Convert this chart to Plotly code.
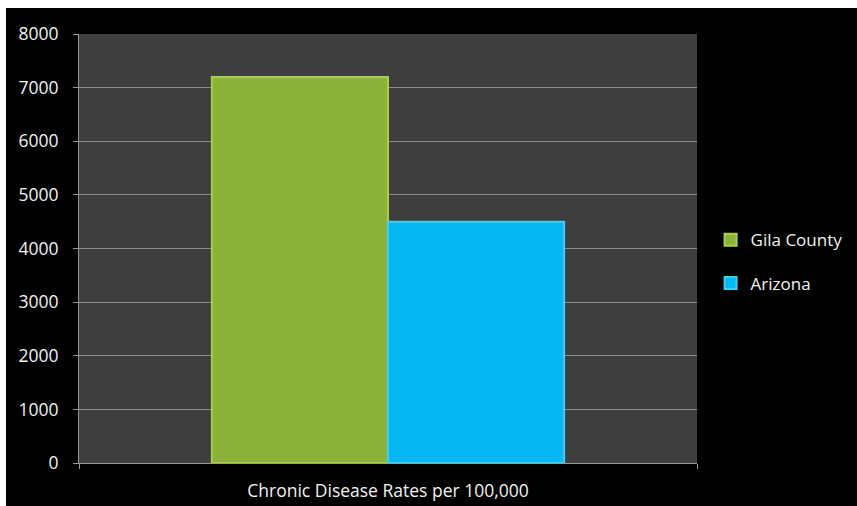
import plotly.graph_objects as go

# Chronic disease rate per 100,000 residents
category = ["Chronic Disease Rates per 100,000"]
regions = ["Gila County", "Arizona"]
rates = [7200, 4500]

fill_colors = ["#8db23a", "#05b8f2"]
edge_colors = ["#a9cf48", "#3fcdf8"]

W, H = 857, 506
M_L, M_R, M_T, M_B = 79, 160, 34, 43
PW, PH = W - M_L - M_R, H - M_T - M_B

FONT = "Open Sans, sans-serif"
TEXT = "#f2f2f2"

fig = go.Figure()
for i, (name, val) in enumerate(zip(regions, rates)):
    fig.add_trace(go.Bar(
        x=category, y=[val], name=name,
        legendgroup=name,
        marker=dict(color=fill_colors[i],
                    line=dict(color=edge_colors[i], width=2)),
    ))

fig.update_layout(
    width=W, height=H,
    margin=dict(l=M_L, r=M_R, t=M_T, b=M_B, pad=0, autoexpand=False),
    paper_bgcolor="#000000",
    plot_bgcolor="#3e3e3e",
    barmode="group",
    bargap=0.43,
    bargroupgap=0,
    showlegend=True,
    legend=dict(
        x=1.022, y=0.469, xanchor="left", yanchor="middle",
        font=dict(family=FONT, size=17, color=TEXT),
        bgcolor="rgba(0,0,0,0)",
        traceorder="grouped",
        tracegroupgap=18,
        itemwidth=30,
    ),
    xaxis=dict(
        type="category",
        showgrid=False,
        showline=True, linecolor="#9a9a9a", linewidth=1,
        ticks="outside", tickson="boundaries", ticklen=5,
        tickcolor="#9a9a9a",
        tickfont=dict(family=FONT, size=17.5, color=TEXT),
        ticklabelstandoff=12,
    ),
    yaxis=dict(
        range=[0, 8000], dtick=1000,
        showgrid=True, gridcolor="#8c8c8c", gridwidth=1,
        showline=True, linecolor="#9a9a9a", linewidth=1,
        ticks="outside", ticklen=5, tickcolor="#9a9a9a",
        tickfont=dict(family=FONT, size=17.5, color=TEXT),
        ticklabelstandoff=11,
        zeroline=False,
    ),
    shapes=[
        # white frame strips along the top and left edges of the page
        dict(type="rect", xref="paper", yref="paper", layer="above",
             x0=-M_L / PW, x1=(W - M_L) / PW,
             y0=(PH + M_T - 8) / PH, y1=(PH + M_T) / PH,
             fillcolor="white", line_width=0),
        dict(type="rect", xref="paper", yref="paper", layer="above",
             x0=-M_L / PW, x1=(6 - M_L) / PW,
             y0=-M_B / PH, y1=(PH + M_T) / PH,
             fillcolor="white", line_width=0),
    ],
)

fig.write_html("out.html", config={"displayModeBar": False})
